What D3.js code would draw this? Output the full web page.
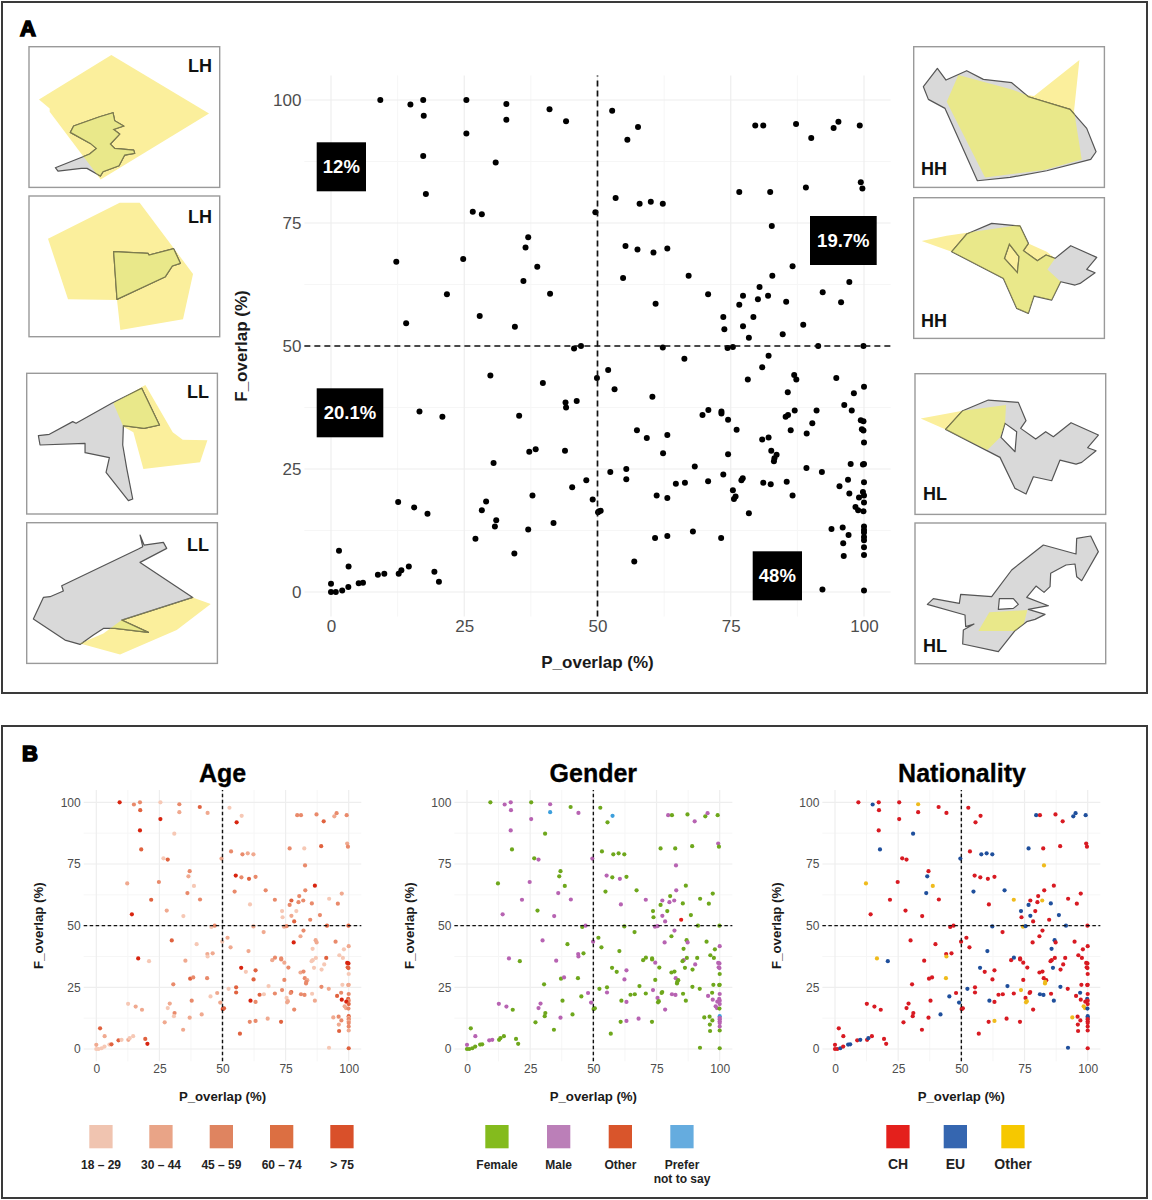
<!DOCTYPE html>
<html lang="en">
<head>
<meta charset="utf-8">
<title>P_overlap and F_overlap</title>
<script src="https://cdnjs.cloudflare.com/ajax/libs/d3/7.8.5/d3.min.js"></script>
<style>
  html, body { margin: 0; padding: 0; background: #fff; overflow: hidden; }
  svg { display: block; }
  text { font-family: "Liberation Sans", Arial, sans-serif; }
</style>
</head>
<body>
<div id="chart"></div>
<script>
// values, one entry per respondent, same order in every array
const pOverlap = [
  9.25,14.9,17.3,17.4,25.4,25.4,32.9,32.9,41,44.1,
  17.3,30.9,17.8,26.6,28.3,49.6,37,36.5,12.25,24.8,
  38.7,36.1,21.75,41.1,27.9,14.1,34.5,45.6,46.9,52.75,
  57.6,55.6,79.6,81.1,87.25,90.1,94.3,95.2,99.2,99.4,
  99.7,89.1,82.4,76.6,53.4,57.9,60,62.25,82.7,55.25,
  57.5,60.5,63.1,86.6,67.1,54.8,82.8,97.25,70.75,80.4,
  77.3,80.1,82,76.6,85.4,92.25,95.7,60.9,73.6,79.25,
  73.8,77.3,88.6,78.4,84.75,91.4,99.9,62.25,74.4,75.4,
  29.9,39.75,49.9,44,44.1,46.1,16.6,20.9,35.3,37.2,
  38.4,43.9,30.5,47.9,45.25,37.8,49.1,50.1,12.6,15.6,
  18.1,29.1,28.3,31,30.75,41.75,37,27.1,34.4,1.5,
  3.3,0,0,0.9,2.1,3.25,5.2,6,8.8,10,
  12.7,13.2,14.6,19.4,20.25,66.3,52,53.2,60.3,82.1,
  80.9,78.2,86.9,87.3,94.8,98.1,100,85.7,96.3,97.7,
  91.1,87,85.75,85.3,69.7,70.8,73.25,73.25,74.5,90.3,
  89.25,86.25,76.1,57.4,59.25,63.1,80.9,82.1,99.4,99.9,
  99.6,99.9,100,62.3,74.5,82.6,83.6,83.2,83.1,68.25,
  55.4,52.4,55.4,89.2,92.1,97.5,99.8,100,73.6,77.25,
  77,64.7,66.4,70.75,81.1,82.5,85.5,100,97,95.4,
  75.4,61.1,63.1,75.9,75.6,86.6,97.25,99.8,100,99.06,
  100,98.4,98.9,99.9,50.3,50.6,78.4,96,100,100,
  100,100,100,93.9,97.1,67.9,60.8,63.1,73.2,96.1,
  100,100,96.2,56.9,92.2,100
];
const fOverlap = [
  100,99.1,100,96.8,100,93.2,99.2,96,98.1,95.7,
  88.6,87.3,80.9,77.3,76.8,77.2,72.1,70,67.1,67.7,
  66.1,63.2,60.5,60.6,56.1,54.6,53.9,49.5,50,97.8,
  94.5,91.9,94.8,94.8,95.1,92.3,94.3,95.6,94.8,83.3,
  82,82.2,81.3,81.3,80.1,78.9,79.3,78.9,74.4,70.3,
  69.6,69,69.8,66.2,64.3,63.8,64.3,63,60.5,62,
  60.2,59.5,60.2,58.4,59,60.9,58.9,58.6,55.9,55.9,
  53.4,54,54.3,51.7,52.4,50,50,49.7,49.6,49.8,
  44,42.5,43.5,38.5,37.5,38.8,36.7,35.6,35.8,28.5,
  29,28.7,26.2,22.7,21.3,19.6,18.8,16.2,18.3,17.2,
  15.9,18.4,16.6,14.6,13.3,14,12.7,10.8,7.8,8.4,
  5.2,1.7,0,0,0.3,1,1.8,1.9,3.5,3.7,
  3.7,4.4,5.2,4.1,2.1,47.4,45.1,41.2,39.7,48,
  45.7,43.2,44.1,43.2,43.5,40.4,41.7,40.6,38,36.9,
  36.9,36.9,36,35.6,36,37,36.7,36.3,35,34.3,
  32.2,32.9,33,32.9,31.3,31.9,31,31.4,34.9,34.7,
  33.1,32.8,30.4,28.2,28,28.7,27.9,27.2,26.6,25.5,
  25,24.4,22.9,25.2,24.4,26,25.9,26,23.9,23.1,
  22.7,22,22.2,22.5,22.2,21.9,22.4,22.3,22.8,21.5,
  20.7,19.6,19.1,19.4,18.9,19.6,20,20.3,19.6,19.2,
  18.2,17.3,16.6,16.4,16.4,16.5,16,13.1,13.3,12.6,
  12.1,11.2,10.5,12.8,11.6,12.3,11,11.4,11,9.9,
  9.1,7.5,7.3,6.2,0.5,0.3
];
// index into ageLabels
const ageGroup = [
  4,2,2,3,0,4,2,1,3,1, 4,0,3,0,3,1,2,1,1,2, 0,2,3,2,1,4,0,0,2,0,
  0,4,2,2,2,3,1,2,2,1, 2,3,0,2,2,2,1,1,2,4, 2,3,2,4,2,2,2,1,2,2,
  3,2,2,2,2,0,2,0,0,0, 0,1,2,3,2,3,3,1,1,2, 3,0,0,1,0,1,4,0,1,3,
  2,2,2,1,0,2,1,4,0,1, 1,1,0,2,0,1,1,1,1,3, 1,1,0,0,0,0,0,3,3,0,
  1,0,0,3,4,1,1,1,1,2, 1,4,1,1,2,0,1,0,0,0, 3,0,0,0,1,2,2,2,1,0,
  0,0,2,4,0,3,1,2,4,4, 3,3,0,3,2,2,1,2,2,0, 3,0,3,2,1,0,1,1,2,3,
  2,3,0,2,2,2,0,2,2,3, 0,4,2,1,1,1,4,3,2,4, 3,1,1,2,3,3,2,2,3,1,
  2,1,2,1,2,1,2,2,3,1, 2,1,3,3,0,3
];
// index into genderLabels
const genderGroup = [
  0,1,1,1,0,1,1,3,0,1, 1,0,0,0,1,1,0,0,0,1, 0,1,1,1,0,1,1,0,1,0,
  3,0,1,0,0,1,0,1,0,1, 0,0,0,0,0,0,0,0,1,1, 0,1,0,0,0,0,1,0,1,0,
  1,1,1,0,0,0,0,1,0,0, 0,1,0,1,2,0,0,0,1,1, 1,0,1,1,1,0,1,0,1,0,
  1,0,0,1,0,0,1,0,1,1, 0,1,1,0,0,0,1,0,0,0, 1,1,0,0,0,0,0,0,1,1,
  0,0,0,0,0,0,0,0,0,1, 0,1,0,1,0,0,1,0,0,0, 0,0,1,0,0,0,0,0,1,1,
  0,0,0,0,0,1,0,0,1,1, 1,1,0,1,0,1,0,0,0,0, 0,0,1,0,0,0,0,0,1,0,
  0,0,0,0,1,1,0,1,0,1, 1,0,1,0,0,0,1,1,1,1, 1,1,1,0,0,0,1,0,3,1,
  1,1,1,0,0,1,0,1,0,0, 1,0,0,0,0,0
];
// index into nationalityLabels
const nationalityGroup = [
  0,1,0,0,0,0,2,0,0,0, 0,1,1,0,0,1,0,1,2,0, 2,1,0,0,0,0,0,0,0,0,
  0,0,1,0,0,0,1,1,1,0, 0,0,0,1,0,1,1,1,2,0, 0,0,0,0,1,1,0,0,2,0,
  0,0,2,1,1,0,0,0,1,0, 0,1,1,0,0,1,0,1,2,1, 0,0,0,0,2,0,2,1,0,0,
  0,2,0,0,1,0,1,0,0,0, 0,0,0,0,0,1,0,0,0,0, 0,0,0,0,1,0,1,1,0,1,
  0,1,0,0,0,0,0,0,1,0, 0,0,1,0,0,0,0,1,0,0, 0,0,0,0,0,1,0,0,0,0,
  0,1,0,1,0,0,0,0,0,0, 0,0,0,0,0,0,0,2,2,1, 0,1,0,1,0,0,0,0,2,0,
  0,0,0,0,1,1,0,0,1,0, 0,1,0,2,2,1,0,1,0,0, 0,2,2,1,0,0,0,0,1,1,
  0,0,0,2,0,0,0,2,0,0, 0,0,0,0,1,0
];
const tickValues = [0, 25, 50, 75, 100];
const minorValues = [12.5, 37.5, 62.5, 87.5];
const quadrantShares = ["12%", "19.7%", "20.1%", "48%"];
const ageLabels = ["18 – 29", "30 – 44", "45 – 59", "60 – 74", "> 75"];
const genderLabels = ["Female", "Male", "Other", "Prefer|not to say"];
const nationalityLabels = ["CH", "EU", "Other"];
const insetNames = ["LH", "LH", "LL", "LL", "HH", "HH", "HL", "HL"];

// map outlines, traced in a 572x422 frame for each inset
const grayShapes = [
  [[252,198],[257,222],[284,238],[254,248],[272,262],[244,292],[257,305],[314,310],[317,320],[287,325],[270,357],[222,375],[214,388],[174,365],[157,365],[87,373],[79,363],[162,330],[182,322],[202,305],[184,290],[124,257],[134,238],[212,210]],
  [[254,167],[357,172],[360,177],[434,158],[454,202],[430,210],[409,242],[264,310]],
  [[35,187],[68,183],[138,145],[148,150],[255,90],[345,45],[398,155],[352,165],[290,157],[288,215],[300,285],[318,377],[305,382],[238,297],[248,253],[175,238],[175,210],[40,215]],
  [[340,37],[352,67],[410,59],[420,77],[340,119],[498,224],[285,292],[365,329],[265,317],[230,317],[200,337],[160,365],[115,352],[20,289],[50,224],[70,222],[110,205],[105,189],[335,79],[348,72]],
  [[71,65],[97,100],[159,72],[209,98],[294,108],[344,150],[469,188],[519,245],[547,315],[531,338],[399,372],[289,392],[191,402],[94,185],[44,158],[29,120]],
  [[159,109],[234,77],[319,85],[344,137],[329,159],[371,189],[397,172],[424,182],[471,144],[549,179],[519,215],[544,225],[499,257],[484,262],[441,252],[414,307],[361,295],[344,347],[309,332],[269,242],[114,162]],
  [[143,111],[220,79],[310,86],[333,141],[317,164],[362,196],[392,174],[415,189],[468,147],[550,184],[518,222],[543,231],[500,266],[483,271],[435,259],[410,321],[355,309],[333,361],[300,344],[255,251],[92,167]],
  [[37,244],[55,227],[133,241],[137,214],[230,221],[290,141],[385,66],[483,93],[485,46],[527,39],[550,86],[500,173],[485,161],[480,123],[453,126],[407,151],[405,191],[387,208],[363,189],[335,223],[400,248],[340,259],[390,274],[360,289],[335,296],[300,323],[250,386],[143,363],[145,321],[177,303],[152,311],[150,276]]
];
const holeShapes = [null, null, null, null, null,
  [[287,139],[316,177],[311,225],[272,182]],
  [[270,149],[305,174],[300,234],[258,191]],
  [[253,227],[295,227],[310,244],[295,256],[250,259]]
];
const yellowShapes = [
  [[247,25],[540,200],[215,398],[62,195],[62,185],[30,158]],
  [[272,20],[332,20],[492,234],[462,370],[274,402],[264,312],[117,310],[57,128]],
  [[356,35],[438,177],[468,199],[542,201],[520,267],[350,287],[320,177],[290,160],[260,90]],
  [[498,224],[552,244],[450,322],[280,395],[160,362],[230,332],[285,292]],
  [[134,85],[294,128],[337,145],[361,148],[497,40],[481,192],[504,338],[391,370],[214,392],[99,165]],
  [[24,130],[99,114],[319,82],[344,137],[399,162],[424,182],[401,215],[441,252],[414,307],[361,295],[344,347],[309,332],[269,242],[114,162]],
  [[17,134],[143,111],[273,94],[270,149],[255,191],[217,229],[92,167]],
  [[223,268],[337,261],[327,301],[300,324],[190,324]]
];

const svg = d3.select("#chart").append("svg").attr("width", 1152).attr("height", 1200);
const defs = svg.append("defs");
const panelColor = "#3a3a3a";

// outer frames + panel letters
svg.append("rect").attr("x", 2).attr("y", 2).attr("width", 1145).attr("height", 691)
  .attr("fill", "none").attr("stroke", panelColor).attr("stroke-width", 2);
svg.append("rect").attr("x", 2).attr("y", 726).attr("width", 1145).attr("height", 472)
  .attr("fill", "none").attr("stroke", panelColor).attr("stroke-width", 2);
svg.selectAll("text.panel").data([["A", 20, 36], ["B", 22, 761]]).enter().append("text")
  .attr("class", "panel").attr("x", d => d[1]).attr("y", d => d[2]).text(d => d[0])
  .attr("font-size", 22).attr("font-weight", 700).attr("fill", "#000")
  .attr("stroke", "#000").attr("stroke-width", 1.6);

// insets: x, y, label x, label baseline
const insetLayout = [
  [29, 46.7, 188, 72], [29, 196, 188, 223], [26.7, 373.3, 187, 398], [26.7, 522.7, 187, 551],
  [913.7, 46.7, 921, 175], [913.7, 197.7, 921, 327], [915, 373.7, 923, 500], [915, 523, 923, 652]
];
const shapeLine = d3.line();
insetLayout.forEach((box, i) => {
  const sx = d3.scaleLinear().domain([0, 572]).range([box[0], box[0] + 190.7]);
  const sy = d3.scaleLinear().domain([0, 422]).range([box[1], box[1] + 140.7]);
  const toPath = pts => shapeLine(pts.map(p => [sx(p[0]), sy(p[1])])) + "Z";
  const grayPath = toPath(grayShapes[i]) + (holeShapes[i] ? toPath(holeShapes[i]) : "");
  const yellowPath = toPath(yellowShapes[i]);
  defs.append("clipPath").attr("id", "gray" + i).append("path").attr("d", grayPath).attr("clip-rule", "evenodd");
  defs.append("clipPath").attr("id", "yellow" + i).append("path").attr("d", yellowPath);

  const g = svg.append("g");
  g.append("rect").attr("x", sx(0)).attr("y", sy(0)).attr("width", 190.7).attr("height", 140.7)
    .attr("fill", "#fff").attr("stroke", "#9a9a9a").attr("stroke-width", 1.4);
  g.append("path").attr("d", yellowPath).attr("fill", "#fbef9c");
  g.append("path").attr("d", grayPath).attr("fill", "#d9d9d9").attr("fill-rule", "evenodd")
    .attr("stroke", "#555").attr("stroke-width", 1.2).attr("stroke-linejoin", "round");
  // overlap is a flat greenish yellow, with the outline showing through olive
  g.append("path").attr("d", yellowPath).attr("fill", "#e9e88a").attr("clip-path", "url(#gray" + i + ")");
  g.append("path").attr("d", grayPath).attr("fill", "none").attr("stroke", "#7d7c4c").attr("stroke-width", 1.2)
    .attr("clip-path", "url(#yellow" + i + ")");
  g.append("text").attr("x", box[2]).attr("y", box[3]).text(insetNames[i])
    .attr("font-size", 18).attr("font-weight", 700).attr("fill", "#111");
});

// one scatter panel; x0/x100 and y0/y100 are where the axis ends sit
function drawScatter(o) {
  const perX = (o.x100 - o.x0) / 100, perY = (o.y0 - o.y100) / 100;
  const x = d3.scaleLinear().domain([-5, 105]).range([o.x0 - 5 * perX, o.x100 + 5 * perX]);
  const y = d3.scaleLinear().domain([-5, 105]).range([o.y0 + 5 * perY, o.y100 - 5 * perY]);
  const g = svg.append("g");

  minorValues.forEach(v => {
    g.append("line").attr("x1", x(v)).attr("x2", x(v)).attr("y1", y(-5)).attr("y2", y(105)).attr("stroke", "#f6f6f6");
    g.append("line").attr("x1", x(-5)).attr("x2", x(105)).attr("y1", y(v)).attr("y2", y(v)).attr("stroke", "#f6f6f6");
  });
  tickValues.forEach(v => {
    g.append("line").attr("x1", x(v)).attr("x2", x(v)).attr("y1", y(-5)).attr("y2", y(105)).attr("stroke", "#eeeeee").attr("stroke-width", 1.2);
    g.append("line").attr("x1", x(-5)).attr("x2", x(105)).attr("y1", y(v)).attr("y2", y(v)).attr("stroke", "#eeeeee").attr("stroke-width", 1.2);
  });

  const xAxis = g.append("g").attr("transform", "translate(0," + y(-5) + ")")
    .call(d3.axisBottom(x).tickValues(tickValues).tickSize(0).tickPadding(o.tickPadX));
  const yAxis = g.append("g").attr("transform", "translate(" + x(-5) + ",0)")
    .call(d3.axisLeft(y).tickValues(tickValues).tickSize(0).tickPadding(o.tickPadY));
  [xAxis, yAxis].forEach(a => {
    a.select(".domain").remove();
    a.selectAll("text").attr("font-size", o.tickSize).attr("fill", "#4d4d4d")
      .attr("font-family", '"Liberation Sans", Arial, sans-serif');
  });

  g.append("text").attr("x", x(50)).attr("y", o.xLabelY).attr("text-anchor", "middle").text("P_overlap (%)")
    .attr("font-size", o.labelSize).attr("font-weight", 700).attr("fill", "#1a1a1a");
  g.append("text").attr("transform", "translate(" + o.yLabelX + "," + y(50) + ") rotate(-90)")
    .attr("text-anchor", "middle").text("F_overlap (%)")
    .attr("font-size", o.labelSize).attr("font-weight", 700).attr("fill", "#1a1a1a");

  g.selectAll("circle").data(pOverlap).enter().append("circle")
    .attr("cx", d => x(d)).attr("cy", (d, i) => y(fOverlap[i])).attr("r", o.r)
    .attr("fill", (d, i) => o.color(i));

  g.append("line").attr("x1", x(50)).attr("x2", x(50)).attr("y1", y(-5)).attr("y2", y(105))
    .attr("stroke", "#111").attr("stroke-width", o.dashWidth).attr("stroke-dasharray", o.dash);
  g.append("line").attr("x1", x(-5)).attr("x2", x(105)).attr("y1", y(50)).attr("y2", y(50))
    .attr("stroke", "#111").attr("stroke-width", o.dashWidth).attr("stroke-dasharray", o.dash);
}

drawScatter({
  x0: 331, x100: 864, y0: 592, y100: 100, r: 3,
  tickSize: 17, tickPadX: 3, tickPadY: 3, labelSize: 17,
  xLabelY: 668, yLabelX: 247, dash: "6,4", dashWidth: 1.7,
  color: () => "#000"
});

// share of respondents per quadrant
const shareBoxes = [[316.7, 142.3, 49.3], [810, 216, 66.7], [316.7, 388.3, 66.6], [752.7, 551.3, 49.3]];
quadrantShares.forEach((label, i) => {
  const b = shareBoxes[i];
  svg.append("rect").attr("x", b[0]).attr("y", b[1]).attr("width", b[2]).attr("height", 49).attr("fill", "#000");
  svg.append("text").attr("x", b[0] + b[2] / 2).attr("y", b[1] + 31).attr("text-anchor", "middle").text(label)
    .attr("font-size", 18.5).attr("font-weight", 700).attr("fill", "#fff");
});

// small panels
const ageDots = ["#f6c8b5", "#f0a98f", "#e98a6b", "#e0623f", "#d8240f"];
const genderDots = ["#6ea71c", "#b763b2", "#e4201c", "#3c9fdc"];
const natDots = ["#d81a22", "#1f4f9c", "#efbb1c"];
const small = { y0: 1049, y100: 802.3, r: 2.1, tickSize: 12, tickPadX: 3, tickPadY: 3, labelSize: 13.2, xLabelY: 1101, dash: "3.5,2.5", dashWidth: 1.4 };
drawScatter({ ...small, x0: 96.3, x100: 348.7, yLabelX: 43, color: i => ageDots[ageGroup[i]] });
drawScatter({ ...small, x0: 467, x100: 719.7, yLabelX: 414, color: i => genderDots[genderGroup[i]] });
drawScatter({ ...small, x0: 835, x100: 1087.7, yLabelX: 781, color: i => natDots[nationalityGroup[i]] });

svg.selectAll("text.title").data([["Age", 222.5], ["Gender", 593.3], ["Nationality", 962]]).enter().append("text")
  .attr("class", "title").attr("x", d => d[1]).attr("y", 782).attr("text-anchor", "middle").text(d => d[0])
  .attr("font-size", 25).attr("font-weight", 700).attr("fill", "#000")
  .attr("stroke", "#000").attr("stroke-width", 0.3);

// legends
function drawLegend(labels, colors, lefts, fontSize) {
  labels.forEach((label, i) => {
    svg.append("rect").attr("x", lefts[i]).attr("y", 1125).attr("width", 23.3).attr("height", 23.3).attr("fill", colors[i]);
    label.split("|").forEach((part, k) => {
      svg.append("text").attr("x", lefts[i] + 11.7).attr("y", 1169 + k * 14).attr("text-anchor", "middle").text(part)
        .attr("font-size", fontSize).attr("font-weight", 700).attr("fill", "#222");
    });
  });
}
drawLegend(ageLabels, ["#f0c4b0", "#e9a487", "#df8460", "#dc6f42", "#d9502a"], [89.3, 149.3, 209.7, 270, 330.3], 12);
drawLegend(genderLabels, ["#84bb1d", "#bb7fb8", "#d9552b", "#65acdf"], [485.3, 547, 608.7, 670.3], 12);
drawLegend(nationalityLabels, ["#e4201c", "#3566b0", "#f6c800"], [886.3, 943.7, 1001.3], 14);
</script>
</body>
</html>
